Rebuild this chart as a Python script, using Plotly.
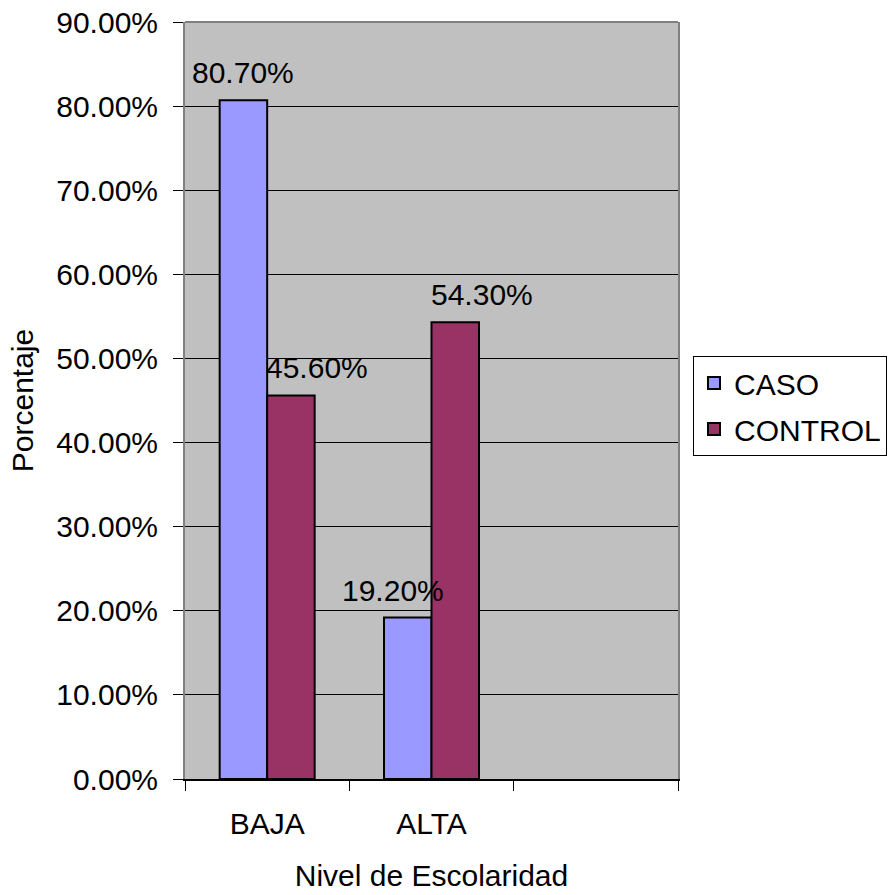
import plotly.graph_objects as go

# Education level categories and the share of each group (percent)
categories = ["BAJA", "ALTA"]
caso = [80.7, 19.2]
control = [45.6, 54.3]
series_names = ["CASO", "CONTROL"]

# Horizontal nudges (px) of the value labels relative to the category centre
label_dx = {"CASO": [-24, -39], "CONTROL": [50, 50]}

FONT = "Liberation Sans, Arial, sans-serif"
n_slots = 3  # the axis reserves a third, empty slot on the right
positions = list(range(len(categories)))
boundaries = [i - 0.5 for i in range(n_slots + 1)]

colors = {"CASO": "#9999FF", "CONTROL": "#993366"}

fig = go.Figure()
for name, vals in zip(series_names, [caso, control]):
    fig.add_trace(go.Bar(
        x=positions,
        y=vals,
        name=name,
        legendgroup=name,
        marker=dict(color=colors[name], line=dict(color="black", width=2)),
    ))

for name, vals in zip(series_names, [caso, control]):
    for i, v in enumerate(vals):
        fig.add_annotation(
            x=positions[i], y=v, xref="x", yref="y",
            text=f"{v:.2f}%", showarrow=False,
            yanchor="bottom", xanchor="center",
            xshift=label_dx[name][i], yshift=9,
            font=dict(family=FONT, size=30, color="black"),
        )

# top border of the plot frame
fig.add_shape(type="line", xref="paper", yref="paper", x0=0, x1=1, y0=1, y1=1,
              line=dict(color="#808080", width=2))

fig.update_layout(
    width=893, height=895,
    margin=dict(l=185, r=215, t=22, b=116, autoexpand=False),
    paper_bgcolor="white",
    plot_bgcolor="#C0C0C0",
    barmode="group",
    bargap=0.422,
    bargroupgap=0,
    font=dict(family=FONT, size=30, color="black"),
    showlegend=True,
    legend=dict(
        x=1.0304, y=0.5588, xanchor="left", yanchor="top",
        bordercolor="black", borderwidth=1, bgcolor="white",
        font=dict(family=FONT, size=30, color="black"),
        traceorder="grouped", tracegroupgap=4,
        itemwidth=30,
    ),
    xaxis=dict(
        range=[boundaries[0], boundaries[-1]],
        tickvals=positions, ticktext=categories,
        ticks="", showgrid=False, zeroline=False,
        showline=True, linecolor="black", linewidth=2, mirror=False,
        ticklabelstandoff=17,
        tickfont=dict(family=FONT, size=30),
        minor=dict(tickvals=boundaries, ticks="outside", ticklen=10,
                   tickcolor="black", tickwidth=1, showgrid=False),
        title=dict(text="Nivel de Escolaridad", standoff=26,
                   font=dict(family=FONT, size=30)),
        automargin=False,
        fixedrange=True,
    ),
    yaxis=dict(
        range=[0, 90], dtick=10, tick0=0,
        tickformat=".2f", ticksuffix="%",
        ticks="outside", ticklen=10, tickcolor="black", tickwidth=1,
        showgrid=True, gridcolor="black", gridwidth=1, zeroline=False,
        showline=True, linecolor="#808080", linewidth=2, mirror=True,
        ticklabelstandoff=9,
        tickfont=dict(family=FONT, size=30),
        title=dict(text="Porcentaje", standoff=14,
                   font=dict(family=FONT, size=30)),
        automargin=False,
        fixedrange=True,
    ),
)

fig.write_html("out.html")
